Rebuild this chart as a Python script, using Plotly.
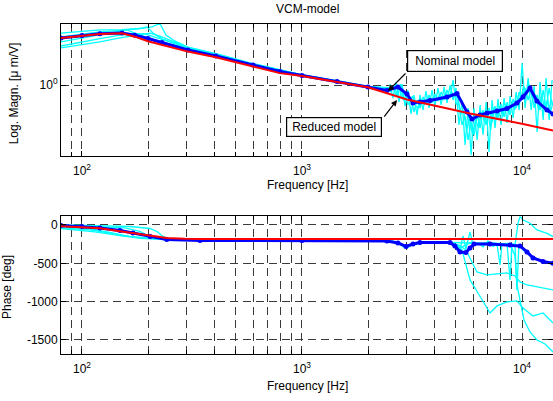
import plotly.graph_objects as go

# ---------------- data: magnitude (um/V) ----------------
red_mag_f = [80.3, 100, 120.7, 152, 174, 199.5, 231, 303, 406, 599, 794, 1000, 1995, 3000, 5802, 10104, 13830]
red_mag = [2.06, 2.12, 2.19, 2.21, 2.10, 1.96, 1.85, 1.67, 1.53, 1.32, 1.20, 1.15, 0.965, 0.80, 0.646, 0.55, 0.497]

blue_f = [80.3, 100, 120.7, 152, 174, 199.5, 231, 303, 406, 599, 794, 1000, 1443, 1995, 2433, 2730, 3000,
          3195, 3436, 3816, 4560, 5064, 5623, 5925, 6442, 6934, 7697, 8547, 9484, 10104, 10870, 11690, 12990, 13830]
blue_mag = [2.06, 2.14, 2.20, 2.22, 2.15, 2.04, 1.92, 1.71, 1.56, 1.36, 1.23, 1.157, 1.055, 0.97, 0.919, 0.97, 0.871,
            0.759, 0.771, 0.788, 0.832, 0.878, 0.661, 0.593, 0.631, 0.65, 0.671, 0.697, 0.759, 0.832, 0.955, 0.782, 0.681, 0.641]

meas_mag_f = [
    [80.3, 100, 120.7, 152, 183, 208, 226, 241, 265, 303, 406, 599, 1000, 1443, 1995, 2512],
    [80.3, 100, 120.7, 152, 183, 197.5, 210, 231, 303, 406, 599, 1000, 1443, 1995, 2512],
    [80.3, 100, 120.7, 141, 160, 174, 199.5, 231, 303, 406, 599, 1000, 1443, 1995, 2512],
    [80.3, 100, 120.7, 148.8, 170.5, 193, 215, 251, 303, 406, 599, 1000, 1443, 1995, 2512],
    [80.3, 100, 120.7, 148.8, 183, 204, 226, 265, 303, 406, 599, 1000, 1443, 1995, 2512],
]
meas_mag = [
    [2.22, 2.29, 2.33, 2.34, 2.38, 2.44, 2.57, 2.15, 1.96, 1.79, 1.62, 1.39, 1.17, 1.07, 0.98, 0.95],
    [2.09, 2.19, 2.26, 2.31, 2.38, 2.44, 2.22, 2.03, 1.77, 1.60, 1.38, 1.166, 1.065, 0.975, 0.94],
    [1.94, 2.06, 2.15, 2.26, 2.33, 2.22, 2.06, 1.94, 1.74, 1.585, 1.37, 1.157, 1.06, 0.97, 0.93],
    [1.82, 1.94, 2.04, 2.15, 2.20, 2.19, 2.09, 1.94, 1.75, 1.585, 1.36, 1.15, 1.055, 0.97, 0.92],
    [1.77, 1.85, 1.94, 2.06, 2.17, 2.22, 2.12, 1.94, 1.78, 1.61, 1.38, 1.166, 1.06, 0.975, 0.96],
]

# high-frequency (noisy) parts of the measured curves
hf_f = [2510, 2590, 2680, 2760, 2850, 2940, 3030, 3130, 3230, 3330, 3440, 3550, 3660, 3780, 3900, 4020,
        4150, 4290, 4420, 4560, 4710, 4860, 5010, 5170, 5340, 5510, 5690, 5870, 6050, 6250, 6450, 6650,
        6870, 7080, 7310, 7540, 7780, 8030, 8290, 8550, 8830, 9110, 9400, 9700, 10010, 10330, 10660,
        11000, 11350, 11710, 12080, 12470, 12870, 13280, 13700]
hf_mag_a = [1.015, 0.819, 1.047, 0.770, 1.015, 0.724, 0.926, 0.641, 0.858, 0.631, 0.858, 0.681, 0.912, 0.703,
            0.926, 0.724, 0.955, 0.736, 0.970, 0.759, 1.0, 0.794, 0.955, 0.541, 0.794, 0.398, 0.703, 0.341,
            0.703, 0.430, 0.736, 0.464, 0.770, 0.358, 0.794, 0.517, 0.807, 0.541, 0.819, 0.558, 0.845, 0.603,
            0.898, 0.681, 1.40, 0.703, 1.113, 0.681, 0.985, 0.486, 1.047, 0.584, 1.113, 0.584, 1.08]
hf_mag_b = [0.898, 0.955, 0.858, 0.985, 0.807, 0.898, 0.736, 0.807, 0.661, 0.794, 0.703, 0.832, 0.747, 0.858,
            0.759, 0.871, 0.782, 0.898, 0.794, 0.926, 0.819, 1.08, 0.747, 0.747, 0.541, 0.621, 0.430, 0.567,
            0.464, 0.631, 0.517, 0.681, 0.541, 0.703, 0.567, 0.724, 0.603, 0.747, 0.612, 0.770, 0.631, 0.807,
            0.703, 0.898, 0.794, 0.955, 0.794, 0.955, 0.703, 0.858, 0.681, 0.926, 0.703, 0.955, 0.736]
hf_f_c = [2550, 2630, 2720, 2800, 2890, 2990, 3080, 3180, 3280, 3390, 3490, 3600, 3720, 3840, 3960, 4090,
          4220, 4350, 4490, 4640, 4780, 4940, 5090, 5250, 5420, 5600, 5780, 5960, 6150, 6350, 6550, 6760,
          6980, 7200, 7430, 7660, 7900, 8160, 8420, 8690, 8970, 9250, 9550, 9850, 10170, 10490, 10830,
          11170, 11530, 11900, 12270, 12670, 13070, 13490, 13900]
hf_mag_c = [0.926, 0.985, 0.832, 1.015, 0.794, 0.858, 0.770, 0.845, 0.724, 0.703, 0.794, 0.747, 0.819, 0.770,
            0.832, 0.794, 0.858, 0.807, 0.885, 0.832, 0.898, 0.845, 0.871, 0.631, 0.681, 0.501, 0.603, 0.464,
            0.584, 0.517, 0.661, 0.567, 0.681, 0.501, 0.703, 0.603, 0.724, 0.621, 0.747, 0.651, 0.759, 0.681,
            0.819, 0.794, 0.985, 0.858, 1.0, 0.794, 0.858, 0.681, 0.858, 0.703, 0.794, 0.661, 0.794]

# ---------------- data: phase (deg) ----------------
red_ph_f = [80.3, 100, 120.7, 141, 170.5, 204, 243, 294, 344, 1000, 13830]
red_ph = [-17, -26, -43, -72, -104, -143, -170, -181, -184, -184, -184]

blue_ph_f = [80.3, 100, 120.7, 148.8, 170.5, 204, 243, 344, 1000, 2433, 2730, 2970, 3195, 3436, 4707, 4955,
             5224, 5559, 5802, 6051, 7153, 8818, 9790, 10537, 11220, 12460, 13830]
blue_ph = [-7, -20, -39, -72, -104, -150, -189, -202, -202, -209, -235, -280, -248, -228, -228, -274,
           -352, -359, -300, -248, -248, -261, -274, -352, -430, -476, -500]

meas_ph_f = [
    [80.3, 120.7, 165, 204, 221, 233, 251, 344, 1000, 2262, 2730, 2970, 3263, 3816, 4707, 5224, 5802, 6442,
     7153, 7943, 8818, 9290, 9590, 9790, 10104, 10870, 11690, 12990, 13830],
    [80.3, 100, 157, 183, 199.5, 217, 251, 1000, 2512, 2730, 2970, 3195, 3816, 4707, 4955, 5224, 5393, 5559,
     5802, 5985, 6310, 6653, 7000, 7379, 7697, 7943, 8110, 8547, 8818, 9006, 9290, 9484, 9680, 10104, 10537,
     11220, 12070, 12990, 13830],
    [80.3, 108.7, 134, 157, 183, 238, 1000, 2512, 2730, 2970, 3195, 3816, 4707, 5224, 5559, 5925, 6237, 6934,
     7697, 8547, 9290, 9790, 10537, 11690, 13830],
    [80.3, 108.7, 141, 165, 204, 251, 1000, 2512, 2730, 2970, 3195, 3816, 4707, 5064, 5337, 5559, 5802, 6310,
     6790, 7153, 7697, 8547, 9484, 10104, 11220, 12460, 13830],
    [80.3, 114.6, 157, 204, 251, 1000, 2512, 2730, 2970, 3195, 3816, 4707, 5802, 7153, 8818, 9290, 9484, 9790,
     10210, 10870, 11690, 12720, 13830],
]
meas_ph = [
    [0, -7, -20, -46, -91, -150, -183, -196, -196, -200, -225, -300, -245, -225, -225, -300, -230, -240,
     -230, -245, -240, -260, 20, 108, 65, 22, -65, -109, -152],
    [-7, -20, -39, -85, -137, -176, -189, -200, -205, -240, -305, -250, -226, -235, -274, -326, -143, -313,
     -91, -261, -235, -287, -209, -280, -250, -522, -244, -243, -717, -245, -262, -848, -250, -326, -365,
     -430, -456, -483, -509],
    [-20, -52, -98, -143, -176, -189, -198, -205, -230, -290, -245, -228, -230, -270, -326, -483, -613, -652,
     -639, -626, -665, -743, -783, -809, -848],
    [-33, -65, -117, -150, -176, -196, -200, -205, -232, -295, -246, -228, -230, -260, -326, -522, -717, -887,
     -1043, -1148, -1056, -1004, -991, -1082, -1187, -1148, -1278],
    [-46, -91, -150, -176, -196, -200, -205, -228, -285, -244, -227, -228, -240, -245, -250, -400, -783, -978,
     -1239, -1396, -1500, -1552, -1656],
]

x_major = [100, 1000, 10000]
x_major_text = ["10<sup>2</sup>", "10<sup>3</sup>", "10<sup>4</sup>"]
x_minor = [90, 200, 300, 400, 500, 600, 700, 800, 900, 2000, 3000, 4000, 5000, 6000, 7000, 8000, 9000]
ph_ticks = [0, -500, -1000, -1500]
ph_text = ["0", "-500", "-1000", "-1500"]

CYAN, BLUE, RED = "#00ffff", "#0000ff", "#ff0000"
FONT = "Liberation Sans, Arial, sans-serif"
GRIDC = "#3a3a3a"
DASH = "8px,5px"

fig = go.Figure()

# magnitude traces
for f, m in zip(meas_mag_f, meas_mag):
    fig.add_trace(go.Scatter(x=f, y=m, mode="lines", line=dict(color=CYAN, width=1.3), xaxis="x", yaxis="y"))
for f, m in ((hf_f, hf_mag_a), (hf_f, hf_mag_b), (hf_f_c, hf_mag_c)):
    fig.add_trace(go.Scatter(x=f, y=m, mode="lines", line=dict(color=CYAN, width=1.3), xaxis="x", yaxis="y"))
fig.add_trace(go.Scatter(x=blue_f, y=blue_mag, mode="lines+markers", line=dict(color=BLUE, width=3),
                         marker=dict(color=BLUE, size=5), xaxis="x", yaxis="y"))
fig.add_trace(go.Scatter(x=red_mag_f, y=red_mag, mode="lines", line=dict(color=RED, width=2), xaxis="x", yaxis="y"))

# phase traces
for f, p in zip(meas_ph_f, meas_ph):
    fig.add_trace(go.Scatter(x=f, y=p, mode="lines", line=dict(color=CYAN, width=1.3), xaxis="x2", yaxis="y2"))
fig.add_trace(go.Scatter(x=blue_ph_f, y=blue_ph, mode="lines+markers", line=dict(color=BLUE, width=3),
                         marker=dict(color=BLUE, size=5), xaxis="x2", yaxis="y2"))
fig.add_trace(go.Scatter(x=red_ph_f, y=red_ph, mode="lines", line=dict(color=RED, width=2), xaxis="x2", yaxis="y2"))

xcommon = dict(type="log", range=[1.9047, 4.1408], tickmode="array", tickvals=x_major, ticktext=x_major_text,
               ticks="inside", ticklen=5, tickcolor="black", showline=True, linecolor="black", linewidth=1,
               mirror="ticks", showgrid=True, gridcolor=GRIDC, griddash=DASH, gridwidth=1, zeroline=False,
               automargin=False, ticklabelstandoff=4, tickfont=dict(family=FONT, size=12, color="black"),
               minor=dict(tickmode="array", tickvals=x_minor, ticks="inside", ticklen=4, tickcolor="black",
                          showgrid=True, gridcolor=GRIDC, griddash=DASH, gridwidth=1))

fig.update_layout(
    width=553, height=401, margin=dict(l=61, r=0, t=24, b=47, autoexpand=False),
    paper_bgcolor="white", plot_bgcolor="white", showlegend=False, hovermode=False,
    xaxis=dict(anchor="y", **xcommon),
    yaxis=dict(domain=[0.6, 1], type="log", range=[-0.4733, 0.4067], tickmode="array", tickvals=[1],
               ticktext=["10<sup>0</sup>"], ticks="inside", ticklen=5, tickcolor="black", showline=True,
               linecolor="black", mirror="ticks", showgrid=True, gridcolor=GRIDC, griddash=DASH, zeroline=False,
               automargin=False, tickfont=dict(family=FONT, size=12, color="black")),
    xaxis2=dict(anchor="y2", **xcommon),
    yaxis2=dict(domain=[0, 0.4182], range=[-1683, 117], tickmode="array", tickvals=ph_ticks, ticktext=ph_text,
                ticks="inside", ticklen=5, tickcolor="black", showline=True, linecolor="black", mirror="ticks",
                showgrid=True, gridcolor=GRIDC, griddash=DASH, zeroline=False,
                automargin=False, tickfont=dict(family=FONT, size=12, color="black")),
)

ann_font = dict(family=FONT, size=12, color="black")
lbl = dict(xref="paper", yref="paper", showarrow=False, font=ann_font, xanchor="center", yanchor="middle")
annotations = [
    dict(text="VCM-model", x=0.5, y=1.045, **lbl),
    dict(text="Frequency [Hz]", x=0.5, y=0.512, **lbl),
    dict(text="Frequency [Hz]", x=0.5, y=-0.097, **lbl),
    dict(text="Log. Magn. [\u03bc m/V]", x=0, xshift=-47, y=0.79, textangle=-90, **lbl),
    dict(text="Phase [deg]", x=0, xshift=-54, y=0.203, textangle=-90, **lbl),
    # boxes
    dict(text="Nominal model", xref="x", yref="y", x=3.6955, y=0.16, showarrow=False, font=ann_font,
         bgcolor="white", bordercolor="black", borderwidth=1.2, borderpad=2, width=90, height=16),
    dict(text="Reduced model", xref="x", yref="y", x=3.1455, y=-0.28, showarrow=False, font=ann_font,
         bgcolor="white", bordercolor="black", borderwidth=1.2, borderpad=2, width=90, height=14),
    # arrows
    dict(text="", xref="x", yref="y", x=3.391, y=-0.04, ax=19, ay=-19, showarrow=True, arrowhead=2,
         arrowsize=1, arrowwidth=1.2, arrowcolor="black"),
    dict(text="", xref="x", yref="y", x=3.432, y=-0.1, ax=-14, ay=18, showarrow=True, arrowhead=2,
         arrowsize=1, arrowwidth=1.2, arrowcolor="black"),
]
fig.update_layout(annotations=annotations)

fig.write_html("out.html", config={"displayModeBar": False, "staticPlot": True},
               post_script="document.body.style.margin='0';document.body.style.overflow='hidden';")
